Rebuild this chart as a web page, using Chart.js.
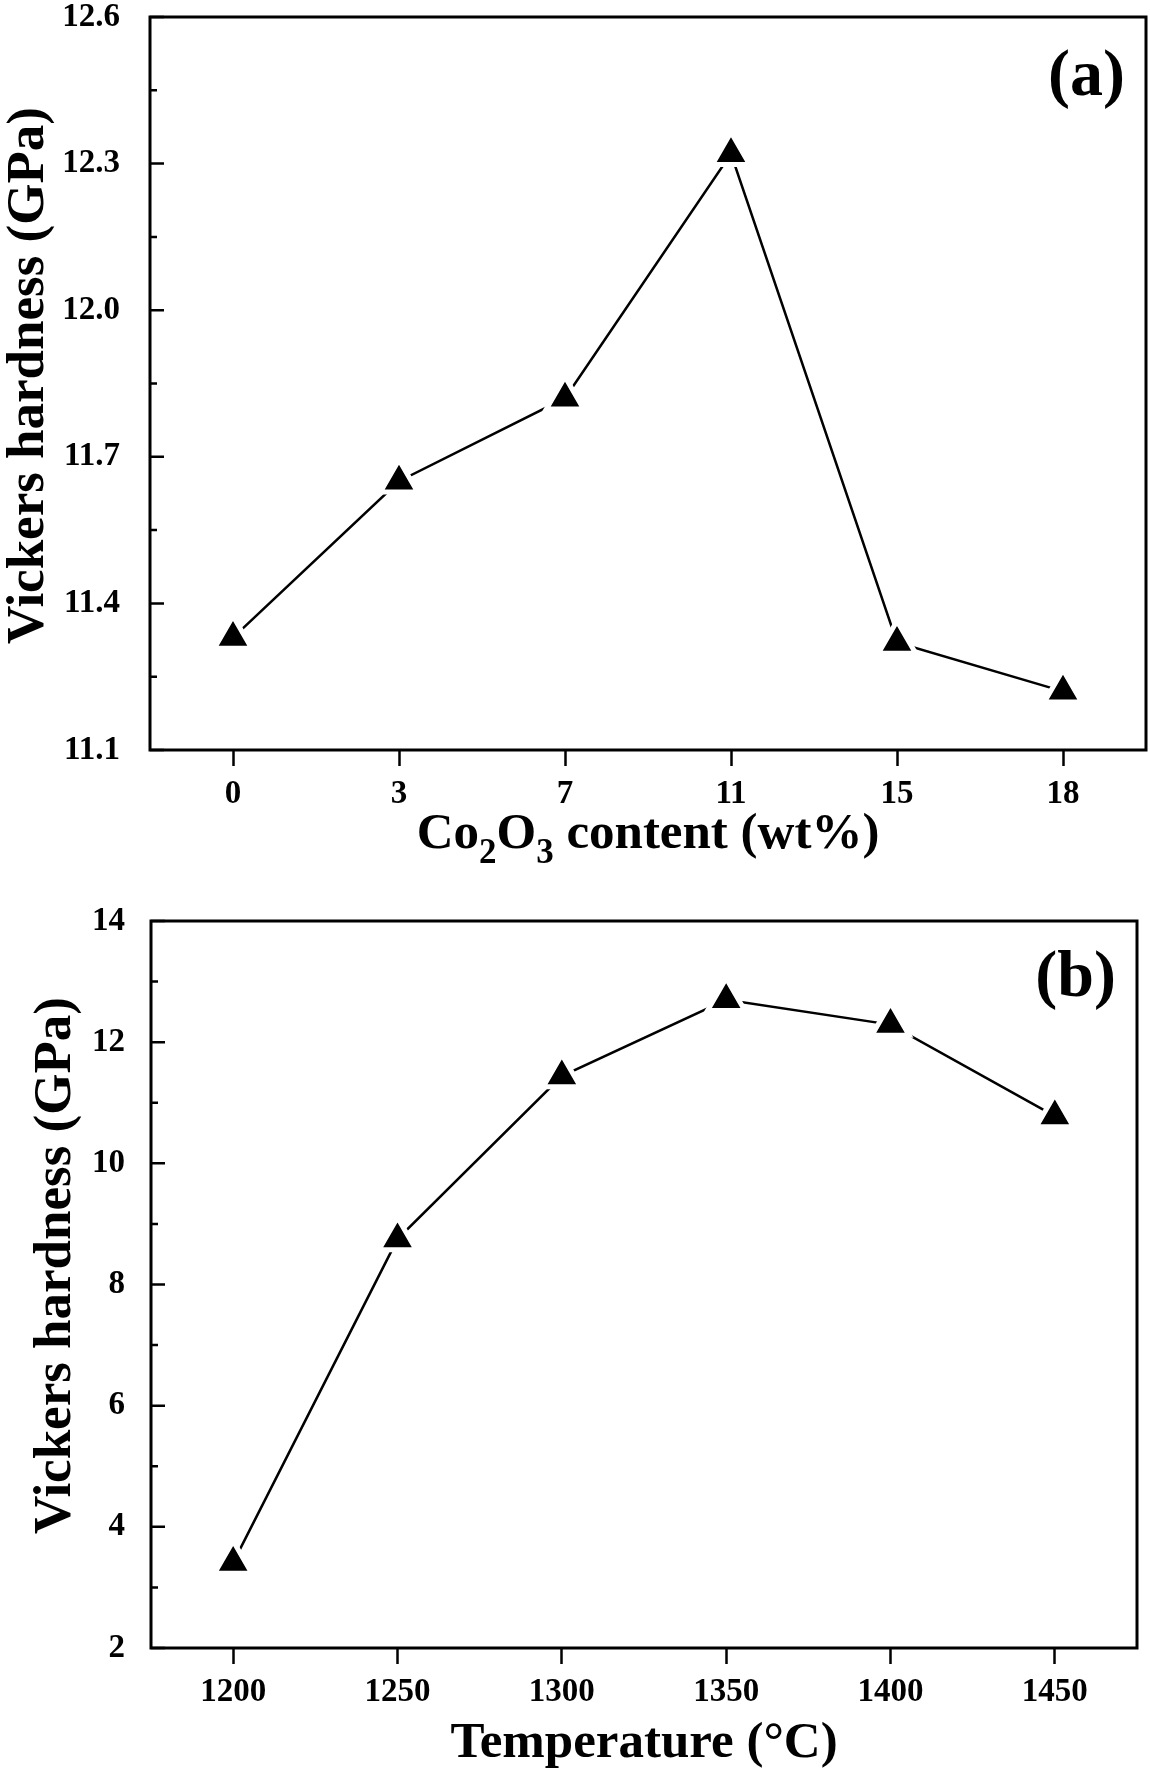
<!DOCTYPE html>
<html>
<head>
<meta charset="utf-8">
<script src="https://cdn.jsdelivr.net/npm/chart.js@4.4.1/dist/chart.umd.min.js"></script>
<style>
  html, body { margin: 0; padding: 0; background: #fff; overflow: hidden; }
  canvas { position: absolute; left: 0; }
  #chartA { top: 0; }
  #chartB { top: 870px; }
</style>
</head>
<body>
<canvas id="chartA" width="1150" height="870"></canvas>
<canvas id="chartB" width="1150" height="899"></canvas>
<script>
const SERIF = '"Liberation Serif", "Times New Roman", serif';

// (a) hardness vs Co2O3 content
const contentLabels = ["0", "3", "7", "11", "15", "18"];
const hardnessA = [11.33, 11.65, 11.82, 12.32, 11.32, 11.22];
const yTicksA = [11.1, 11.4, 11.7, 12.0, 12.3, 12.6];

// (b) hardness vs sintering temperature
const tempLabels = ["1200", "1250", "1300", "1350", "1400", "1450"];
const hardnessB = [3.41, 8.75, 11.44, 12.70, 12.29, 10.78];
const yTicksB = [2, 4, 6, 8, 10, 12, 14];

const yTitle = "Vickers hardness (GPa)";
// x titles as runs, [text, isSubscript]
const xTitleA = [["Co", false], ["2", true], ["O", false], ["3", true], [" content (wt%)", false]];
const xTitleB = [["Temperature (\u00B0C)", false]];

// big markers would otherwise push the plot area inwards
Chart.LineController.prototype.getMaxOverflow = function () { return 0; };

// frame, inward y ticks (major + minor), panel letter, axis titles
const framePlugin = {
  id: "frame",
  afterDraw(chart, args, opts) {
    const { ctx, chartArea: a } = chart;
    const y = chart.scales.y;
    ctx.save();
    ctx.strokeStyle = "#000";
    ctx.lineWidth = 3;
    ctx.strokeRect(a.left, a.top, a.right - a.left, a.bottom - a.top);

    ctx.lineWidth = 2.5;
    const vals = y.ticks.map(t => t.value);
    ctx.beginPath();
    vals.forEach((v, i) => {
      const py = y.getPixelForValue(v);
      ctx.moveTo(a.left, py);
      ctx.lineTo(a.left + 14, py);
      if (i < vals.length - 1) {
        const pm = y.getPixelForValue((v + vals[i + 1]) / 2);
        ctx.moveTo(a.left, pm);
        ctx.lineTo(a.left + 7, pm);
      }
    });
    ctx.stroke();

    ctx.fillStyle = "#000";
    ctx.textBaseline = "alphabetic";
    ctx.textAlign = "right";
    ctx.font = "bold 66px " + SERIF;
    ctx.fillText(opts.label, a.right - 21, a.top + opts.labelDy);

    // x title, centred under the plot
    const big = "bold 51px " + SERIF, small = "bold 35px " + SERIF;
    let total = 0;
    opts.xTitle.forEach(([t, sub]) => {
      ctx.font = sub ? small : big;
      total += ctx.measureText(t).width;
    });
    let x = (a.left + a.right) / 2 - total / 2;
    const base = a.bottom + opts.titleDy;
    ctx.textAlign = "left";
    opts.xTitle.forEach(([t, sub]) => {
      ctx.font = sub ? small : big;
      ctx.fillText(t, x, sub ? base + 15 : base);
      x += ctx.measureText(t).width;
    });

    // y title, rotated
    ctx.translate(opts.yTitleX, (a.top + a.bottom) / 2 + opts.yTitleDy);
    ctx.rotate(-Math.PI / 2);
    ctx.textAlign = "center";
    ctx.textBaseline = "middle";
    ctx.font = "bold 53px " + SERIF;
    ctx.fillText(yTitle, 0, 0);
    ctx.restore();
  }
};

function noPad(scale) {
  scale.paddingTop = 0;
  scale.paddingBottom = 0;
  scale.paddingLeft = 0;
  scale.paddingRight = 0;
}

function makeChart(id, labels, values, yTicks, opt) {
  const ctx = document.getElementById(id).getContext("2d");
  return new Chart(ctx, {
    type: "line",
    data: {
      labels: labels,
      datasets: [{
        data: values,
        clip: false,
        borderColor: "#000",
        borderWidth: 2.5,
        tension: 0,
        fill: false,
        pointStyle: "triangle",
        pointRadius: 21.5,
        pointHoverRadius: 21.5,
        pointBackgroundColor: "#000",
        pointBorderColor: "#fff",
        pointBorderWidth: 5
      }]
    },
    options: {
      responsive: false,
      animation: false,
      layout: { padding: opt.padding },
      plugins: {
        legend: { display: false },
        tooltip: { enabled: false },
        frame: {
          label: opt.label, labelDy: opt.labelDy, xTitle: opt.xTitle, titleDy: opt.titleDy,
          yTitleX: opt.yTitleX, yTitleDy: opt.yTitleDy
        }
      },
      scales: {
        x: {
          type: "category",
          offset: true,
          border: { display: false },
          grid: { drawOnChartArea: false, drawTicks: true, tickLength: 16, tickWidth: 2.5, color: "#000" },
          ticks: { color: "#000", padding: 9, font: { family: SERIF, size: 33, weight: "bold", lineHeight: 1.2 } },
          afterFit(scale) { scale.height = opt.xHeight; noPad(scale); }
        },
        y: {
          min: yTicks[0],
          max: yTicks[yTicks.length - 1],
          border: { display: false },
          grid: { display: false },
          afterBuildTicks(scale) { scale.ticks = yTicks.map(v => ({ value: v })); },
          afterFit(scale) { scale.width = opt.yWidth; noPad(scale); },
          ticks: {
            color: "#000",
            padding: opt.yTickPad,
            font: { family: SERIF, size: 33, weight: "bold", lineHeight: 1 },
            callback: v => Number(v).toFixed(opt.decimals)
          }
        }
      }
    },
    plugins: [framePlugin]
  });
}

makeChart("chartA", contentLabels, hardnessA, yTicksA, {
  padding: { top: 17, right: 4, left: 0, bottom: 0 },
  xHeight: 120, yWidth: 150, yTickPad: 22,
  yTitleX: 29, yTitleDy: -8,
  decimals: 1, label: "(a)", labelDy: 78, xTitle: xTitleA, titleDy: 98
});

makeChart("chartB", tempLabels, hardnessB, yTicksB, {
  padding: { top: 51, right: 13, left: 0, bottom: 0 },
  xHeight: 121, yWidth: 151, yTickPad: 18,
  yTitleX: 56, yTitleDy: -19,
  decimals: 0, label: "(b)", labelDy: 75, xTitle: xTitleB, titleDy: 109
});
</script>
</body>
</html>
